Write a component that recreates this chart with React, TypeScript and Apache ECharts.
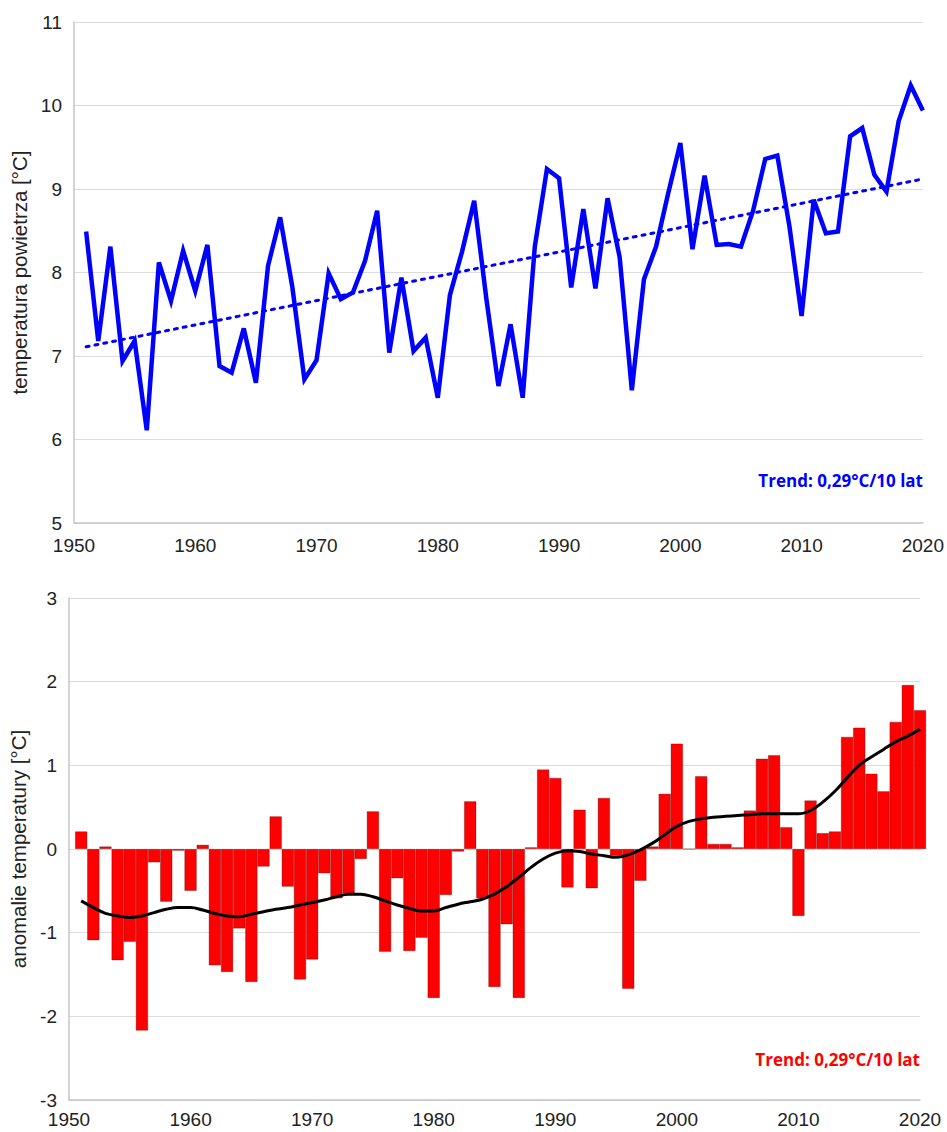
import React, { useEffect, useRef } from "react";
import * as echarts from "echarts";

const firstYear = 1951;
const years: number[] = Array.from({ length: 70 }, (_, i) => firstYear + i);

const temperature: number[] = [
  8.49, 7.18, 8.31, 6.94, 7.18, 6.11, 8.12, 7.66, 8.26, 7.78,
  8.33, 6.88, 6.80, 7.33, 6.68, 8.08, 8.66, 7.83, 6.72, 6.95,
  7.99, 7.68, 7.76, 8.14, 8.74, 7.04, 7.94, 7.06, 7.22, 6.50,
  7.73, 8.25, 8.86, 7.69, 6.64, 7.38, 6.50, 8.31, 9.24, 9.13,
  7.82, 8.76, 7.81, 8.89, 8.18, 6.59, 7.92, 8.31, 8.95, 9.55,
  8.28, 9.16, 8.33, 8.34, 8.31, 8.74, 9.36, 9.40, 8.55, 7.48,
  8.87, 8.47, 8.49, 9.63, 9.73, 9.17, 8.97, 9.81, 10.24, 9.94,
];

const trendYears: number[] = [1951, 2020];
const trendValues: number[] = [7.11, 9.12];

const anomaly: number[] = [
  0.21, -1.09, 0.03, -1.33, -1.11, -2.17, -0.16, -0.63, -0.02, -0.5,
  0.05, -1.39, -1.47, -0.95, -1.59, -0.21, 0.39, -0.45, -1.56, -1.32,
  -0.29, -0.59, -0.53, -0.12, 0.45, -1.23, -0.35, -1.22, -1.06, -1.78,
  -0.55, -0.03, 0.57, -0.59, -1.65, -0.9, -1.78, 0.02, 0.95, 0.85,
  -0.46, 0.47, -0.47, 0.61, -0.08, -1.67, -0.38, 0.03, 0.66, 1.26,
  0.0, 0.87, 0.06, 0.06, 0.02, 0.46, 1.08, 1.12, 0.26, -0.8,
  0.58, 0.19, 0.21, 1.34, 1.45, 0.9, 0.69, 1.52, 1.96, 1.66,
];

const smoothAnomaly: number[] = [
  -0.62, -0.7, -0.77, -0.8, -0.82, -0.8, -0.76, -0.72, -0.7, -0.7,
  -0.73, -0.77, -0.8, -0.81, -0.78, -0.75, -0.72, -0.7, -0.67, -0.64,
  -0.61, -0.57, -0.54, -0.54, -0.57, -0.62, -0.67, -0.71, -0.74, -0.74,
  -0.7, -0.66, -0.63, -0.6, -0.54, -0.45, -0.34, -0.22, -0.12, -0.05,
  -0.02, -0.03, -0.06, -0.08, -0.1, -0.07, -0.01, 0.07, 0.17, 0.27,
  0.33, 0.36, 0.38, 0.39, 0.4, 0.41, 0.42, 0.42, 0.42, 0.42,
  0.46, 0.56, 0.69, 0.85, 1.0, 1.1, 1.19, 1.28, 1.35, 1.43,
];

const trendLabel = "Trend: 0,29°C/10 lat";
const topYName = "temperatura powietrza [°C]";
const bottomYName = "anomalie temperatury [°C]";

const AXIS_FONT = '"Liberation Sans", Arial, sans-serif';
const TEXT_COLOR = "#222222";
const AXIS_LINE = "#c6c6c6";
const GRID_LINE = "#dcdcdc";

export default function App() {
  const ref = useRef<HTMLDivElement>(null);

  useEffect(() => {
    document.body.style.margin = "0";
    if (!ref.current) return;
    const chart = echarts.init(ref.current, undefined, { renderer: "svg" });

    const xAxisBase = (gridIndex: number, margin: number) => ({
      type: "value" as const,
      gridIndex,
      min: 1950,
      max: 2020,
      interval: 10,
      axisLine: { show: true, onZero: false, lineStyle: { color: AXIS_LINE, width: 1.5 } },
      axisTick: { show: false },
      splitLine: { show: false },
      axisLabel: {
        color: TEXT_COLOR,
        fontSize: 19,
        fontFamily: AXIS_FONT,
        margin,
        formatter: (v: number) => String(v),
      },
    });

    const yAxisBase = (gridIndex: number, min: number, max: number, name: string, nameGap: number) => ({
      type: "value" as const,
      gridIndex,
      min,
      max,
      interval: 1,
      name,
      nameLocation: "middle" as const,
      nameRotate: 90,
      nameGap,
      nameTextStyle: { color: TEXT_COLOR, fontSize: 20.5, fontFamily: AXIS_FONT },
      axisLine: { show: true, onZero: false, lineStyle: { color: AXIS_LINE, width: 1.5 } },
      axisTick: { show: false },
      splitLine: { show: true, lineStyle: { color: GRID_LINE, width: 1.2 } },
      axisLabel: {
        color: TEXT_COLOR,
        fontSize: 19,
        fontFamily: AXIS_FONT,
        margin: 12,
        formatter: (v: number) => String(v),
      },
    });

    chart.setOption({
      animation: false,
      backgroundColor: "#ffffff",
      grid: [
        { left: 74, top: 22, width: 851, height: 501, containLabel: false },
        { left: 69, top: 598, width: 851, height: 502, containLabel: false },
      ],
      xAxis: [xAxisBase(0, 13), xAxisBase(1, 10)],
      yAxis: [
        yAxisBase(0, 5, 11, topYName, 40),
        yAxisBase(1, -3, 3, bottomYName, 35),
      ],
      series: [
        {
          type: "line",
          xAxisIndex: 0,
          yAxisIndex: 0,
          data: years.map((y, i) => [y, temperature[i]]),
          showSymbol: false,
          symbol: "none",
          lineStyle: { color: "#0000ff", width: 4.5, join: "miter" },
          z: 3,
        },
        {
          type: "line",
          xAxisIndex: 0,
          yAxisIndex: 0,
          data: trendYears.map((y, i) => [y, trendValues[i]]),
          showSymbol: false,
          symbol: "none",
          lineStyle: { color: "#0000ff", width: 3, type: [3, 6], cap: "round" },
          z: 2,
        },
        {
          type: "bar",
          xAxisIndex: 1,
          yAxisIndex: 1,
          data: years.map((y, i) => [y, anomaly[i]]),
          barWidth: 12.2,
          itemStyle: { color: "#ff0000", borderColor: "rgba(90,0,0,0.55)", borderWidth: 0.6 },
          z: 2,
        },
        {
          type: "line",
          xAxisIndex: 1,
          yAxisIndex: 1,
          data: years.map((y, i) => [y, smoothAnomaly[i]]),
          smooth: 0.4,
          showSymbol: false,
          symbol: "none",
          lineStyle: { color: "#000000", width: 3 },
          z: 4,
        },
      ],
      graphic: [
        {
          type: "text",
          right: 24,
          top: 472,
          style: {
            text: trendLabel,
            fill: "#0000ff",
            font: 'bold 17px "Open Sans", sans-serif',
          },
        },
        {
          type: "text",
          right: 27,
          top: 1051,
          style: {
            text: trendLabel,
            fill: "#ff0000",
            font: 'bold 17px "Open Sans", sans-serif',
          },
        },
      ],
    });

    return () => {
      chart.dispose();
    };
  }, []);

  return <div ref={ref} style={{ width: 947, height: 1132 }} />;
}
